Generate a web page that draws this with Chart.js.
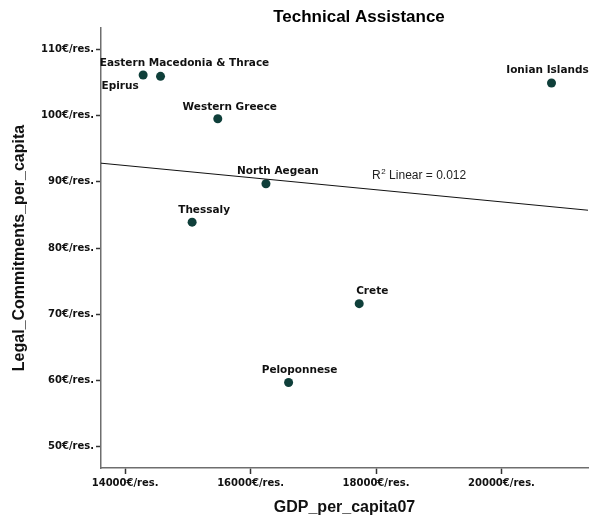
<!DOCTYPE html>
<html>
<head>
<meta charset="utf-8">
<script src="https://cdn.jsdelivr.net/npm/chart.js@4/dist/chart.umd.min.js"></script>
<style>
  html, body { margin: 0; padding: 0; background: #fff; }
  #wrap { width: 594px; height: 520px; }
</style>
</head>
<body>
<div id="wrap"><canvas id="grafico" width="594" height="520"></canvas></div>
<script>
// regiões e valores
const regioes = ['Epirus', 'Eastern Macedonia & Thrace', 'Western Greece', 'North Aegean',
  'Thessaly', 'Peloponnese', 'Crete', 'Ionian Islands'];
const gdp = [14287, 14564, 15477, 16245, 15068, 16606, 17732, 20798];
const compromissos = [106.1, 105.9, 99.5, 89.7, 83.9, 59.7, 71.6, 104.9];

// limites dos eixos e ticks
const xMin = 13615, xMax = 21380;
const yMin = 46.8, yMax = 113.2;
const xTicks = [14000, 16000, 18000, 20000];
const yTicks = [50, 60, 70, 80, 90, 100, 110];

// linha de ajuste (valores nas pontas do eixo x)
const fitY = [92.8, 85.7];
const r2 = '0.012';

// deslocamento dos rótulos (em px) em relação ao ponto
const rotuloOffset = [[-23, 11], [24, -13], [12, -12], [12, -12], [12, -12], [11, -12], [13, -12], [-4, -13]];

const corPonto = '#0f3f3a';
const corEixo = '#6e6e6e';

const rotulos = {
  id: 'rotulos',
  afterDatasetsDraw(chart) {
    const ctx = chart.ctx;
    const meta = chart.getDatasetMeta(1);
    ctx.save();
    ctx.fillStyle = '#111';
    ctx.font = 'bold 10.5px "DejaVu Sans"';
    ctx.textAlign = 'center';
    ctx.textBaseline = 'middle';
    meta.data.forEach((p, i) => {
      ctx.fillText(regioes[i], p.x + rotuloOffset[i][0], p.y + rotuloOffset[i][1]);
    });
    // R² Linear
    const a = chart.chartArea;
    ctx.textAlign = 'left';
    ctx.font = '12px "Liberation Sans"';
    ctx.fillStyle = '#222';
    let x = a.left + 271, y = 176;
    ctx.fillText('R', x, y);
    x += ctx.measureText('R').width;
    ctx.font = '8px "Liberation Sans"';
    ctx.fillText('2', x + 0.5, y - 4);
    x += ctx.measureText('2').width + 4;
    ctx.font = '12px "Liberation Sans"';
    ctx.fillText('Linear = ' + r2, x, y);
    // título
    ctx.textAlign = 'center';
    ctx.fillStyle = '#000';
    ctx.font = 'bold 17px "Liberation Sans"';
    ctx.fillText('Technical Assistance', 359, 17);
    ctx.restore();
  }
};

const ctx = document.getElementById('grafico').getContext('2d');
const grafico = new Chart(ctx, {
  type: 'scatter',
  data: {
    datasets: [{
      type: 'line',
      data: [{ x: xMin, y: fitY[0] }, { x: xMax, y: fitY[1] }],
      borderColor: '#111',
      borderWidth: 1,
      pointRadius: 0,
      fill: false
    }, {
      data: gdp.map((g, i) => ({ x: g, y: compromissos[i] })),
      backgroundColor: corPonto,
      borderColor: corPonto,
      pointRadius: 4.5,
      borderWidth: 0
    }]
  },
  options: {
    responsive: false,
    animation: false,
    events: [],
    layout: { padding: { top: 28, right: 6, left: 0, bottom: 0 } },
    plugins: { legend: { display: false }, tooltip: { enabled: false } },
    scales: {
      x: {
        type: 'linear',
        min: xMin, max: xMax,
        afterBuildTicks: s => { s.ticks = xTicks.map(v => ({ value: v })); },
        afterFit: s => { s.height = 52; },
        border: { color: corEixo, width: 1.5 },
        grid: { drawOnChartArea: false, tickLength: 6, tickColor: '#333', tickWidth: 1.5 },
        ticks: {
          padding: 3, maxRotation: 0, color: '#111',
          font: { family: 'DejaVu Sans', size: 10, weight: 'bold' },
          callback: v => v + '€/res.'
        },
        title: {
          display: true, text: 'GDP_per_capita07', color: '#111',
          font: { family: 'Liberation Sans', size: 16, weight: 'bold' },
          padding: { top: 0, bottom: 3 }
        }
      },
      y: {
        type: 'linear',
        min: yMin, max: yMax,
        afterBuildTicks: s => { s.ticks = yTicks.map(v => ({ value: v })); },
        afterFit: s => { s.width = 101; },
        border: { color: corEixo, width: 1.5 },
        grid: { drawOnChartArea: false, tickLength: 5, tickColor: '#333', tickWidth: 1.5 },
        ticks: {
          padding: 2, color: '#111',
          font: { family: 'DejaVu Sans', size: 10, weight: 'bold' },
          callback: v => v + '€/res.'
        },
        title: {
          display: true, text: 'Legal_Commitments_per_capita', color: '#111',
          font: { family: 'Liberation Sans', size: 16, weight: 'bold' },
          padding: { top: 10, bottom: 0 }
        }
      }
    }
  },
  plugins: [rotulos]
});
</script>
</body>
</html>
